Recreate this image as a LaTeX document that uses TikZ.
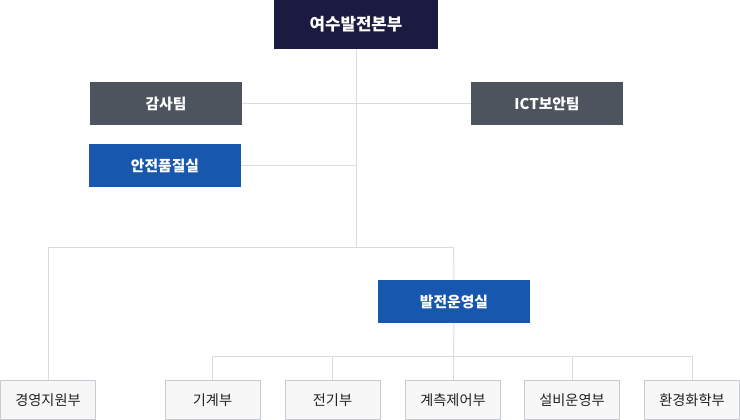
\documentclass[tikz,border=0pt]{standalone}
\usepackage{fontspec}
\setmainfont{Noto Sans CJK KR}
\begin{document}
\begin{tikzpicture}[x=1pt,y=-1pt,
  base/.style={inner sep=0pt, minimum width=152pt, minimum height=43pt, text=white, font=\fontsize{14.8}{17}\selectfont\bfseries},
  topbox/.style={base, fill=topc, minimum width=164pt, minimum height=49pt, font=\fontsize{16.8}{19}\selectfont\bfseries},
  graybox/.style={base, fill=grayc},
  bluebox/.style={base, fill=bluec},
  dept/.style={inner sep=0pt, minimum width=95pt, minimum height=39pt, fill=deptfill, draw=deptborder, line width=1pt, text=deptext, font=\fontsize{14.2}{16}\selectfont},
  link/.style={draw=linec, line width=1pt}]
\definecolor{topc}{HTML}{1B1A40}
\definecolor{grayc}{HTML}{4D545D}
\definecolor{bluec}{HTML}{1757AE}
\definecolor{deptfill}{HTML}{F7F7F7}
\definecolor{deptborder}{HTML}{C5CAD3}
\definecolor{deptext}{HTML}{222222}
\definecolor{linec}{HTML}{DCDCDC}
\useasboundingbox (0,0) rectangle (740,420);
% nodes
\node[topbox] (hq) at (356,24.5) {여수발전본부};
\node[graybox] (audit) at (166,103.5) {감사팀};
\node[graybox] (ict) at (547,103.5) {ICT보안팀};
\node[bluebox] (safety) at (165,165.5) {안전품질실};
\node[bluebox] (ops) at (454,301.5) {발전운영실};
\node[dept] (mgmt) at (48,400) {경영지원부};
\node[dept] (mech) at (212.5,400) {기계부};
\node[dept] (elec) at (332.5,400) {전기부};
\node[dept] (inst) at (453,400) {계측제어부};
\node[dept] (fac) at (572,400) {설비운영부};
\node[dept] (env) at (692,400) {환경화학부};
% junctions
\coordinate (jS) at (356,165.5);
\coordinate (jB) at (356,247);
\coordinate (jL) at (48,247);
\coordinate (jR) at (453.5,247);
\coordinate (jO) at (453.5,356);
\coordinate (j1) at (212.5,356);
\coordinate (j2) at (332.5,356);
\coordinate (j4) at (572,356);
\coordinate (j5) at (692,356);
% connectors
\draw[link] (hq.south) -- (jB);
\draw[link] (audit.east) -- (ict.west);
\draw[link] (safety.east) -- (jS);
\draw[link] (jL) -- (jR);
\draw[link] (jL) -- (mgmt.north);
\draw[link] (jR) -- (ops.north);
\draw[link] (ops.south) -- (jO);
\draw[link] (j1) -- (j5);
\draw[link] (j1) -- (mech.north);
\draw[link] (j2) -- (elec.north);
\draw[link] (jO) -- (jO |- inst.north);
\draw[link] (j4) -- (fac.north);
\draw[link] (j5) -- (env.north);
\end{tikzpicture}
\end{document}
